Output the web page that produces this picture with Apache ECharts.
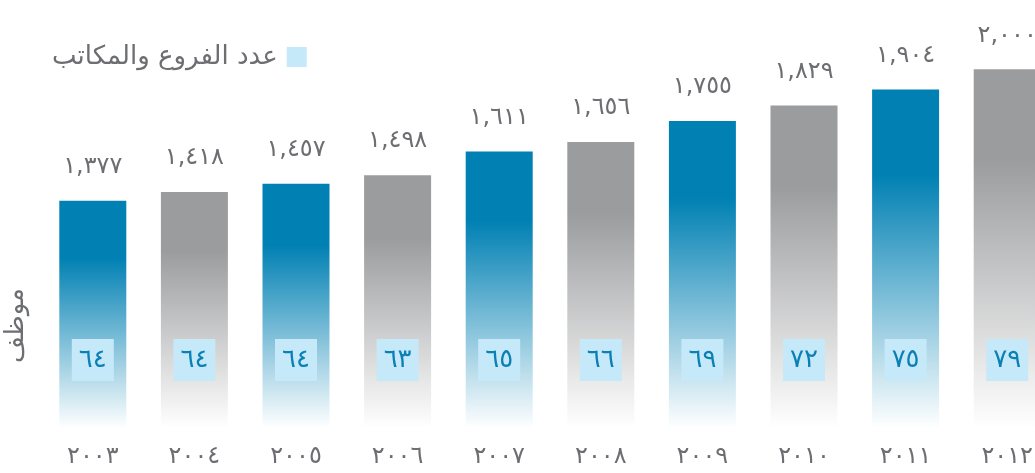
<!DOCTYPE html>
<html>
<head>
<meta charset="utf-8">
<script src="https://cdn.jsdelivr.net/npm/echarts@6/dist/echarts.min.js"></script>
<style>
  html, body { margin: 0; padding: 0; background: #fff; overflow: hidden; }
  /* the last bar is cut by the right edge in the original, so the canvas runs past the window */
  #chart { width: 1070px; height: 473px; }
</style>
</head>
<body>
<div id="chart"></div>
<script>
// data
var years = ['2003', '2004', '2005', '2006', '2007', '2008', '2009', '2010', '2011', '2012'];
var staff = [1377, 1418, 1457, 1498, 1611, 1656, 1755, 1829, 1904, 2000];
var branches = [64, 64, 64, 63, 65, 66, 69, 72, 75, 79];
var staffName = 'موظف';
var branchName = 'عدد الفروع والمكاتب';

var grey = '#6d6e71';
var font = '"DejaVu Sans", "Noto Sans", sans-serif';

// western digits -> arabic-indic digits
function toArabic(s) {
    return String(s).replace(/[0-9]/g, function (d) {
        return String.fromCharCode(0x0660 + Number(d));
    });
}

function fade(color) {
    return new echarts.graphic.LinearGradient(0, 0, 0, 1, [
        {offset: 0, color: color},
        {offset: 0.25, color: color},
        {offset: 1, color: 'rgba(255,255,255,1)'}
    ]);
}

var blueFade = fade('#0080b3');
var greyFade = fade('#9b9c9e');

var staffData = [];
for (var i = 0; i < staff.length; i++) {
    staffData.push({
        value: staff[i],
        itemStyle: {color: i % 2 === 0 ? blueFade : greyFade}
    });
}

var myChart = echarts.init(document.getElementById('chart'));

var option = {
    animation: false,
    textStyle: {fontFamily: font},
    legend: {
        left: 47,
        top: 39,
        align: 'right',
        itemWidth: 20,
        itemHeight: 20,
        textStyle: {fontSize: 26, color: grey, fontFamily: font, padding: [0, 4, 0, 0]},
        data: [{name: branchName, icon: 'rect', itemStyle: {color: '#c6e9f9'}}]
    },
    grid: {left: 42, width: 1016, top: 6, bottom: 45},
    xAxis: {
        type: 'category',
        data: years,
        axisLine: {show: false},
        axisTick: {show: false},
        axisLabel: {
            fontSize: 24,
            color: grey,
            margin: 17,
            formatter: function (v) { return toArabic(v); }
        }
    },
    yAxis: [
        {type: 'value', min: 300, max: 2300, show: false},
        {type: 'value', min: 0, max: 100, show: false}
    ],
    graphic: [{
        type: 'text',
        left: 3,
        top: 288,
        rotation: Math.PI / 2,
        style: {text: staffName, fontSize: 26, fill: grey, fontFamily: font}
    }],
    series: [
        {
            name: staffName,
            type: 'bar',
            barWidth: 67,
            barGap: '-100%',
            data: staffData,
            label: {
                show: true,
                position: 'top',
                distance: 22,
                fontSize: 24,
                color: grey,
                formatter: function (p) {
                    return toArabic(p.value.toLocaleString('en-US'));
                }
            }
        },
        {
            name: branchName,
            type: 'bar',
            yAxisIndex: 1,
            barWidth: 67,
            barGap: '-100%',
            data: branches,
            itemStyle: {color: 'rgba(0,0,0,0)'},
            label: {
                show: true,
                position: 'insideBottom',
                distance: 47,
                width: 42,
                height: 42,
                lineHeight: 42,
                align: 'center',
                backgroundColor: '#c6e9f9',
                fontSize: 26,
                color: '#0a80b4',
                formatter: function (p) { return toArabic(p.value); }
            }
        }
    ]
};

myChart.setOption(option);
</script>
</body>
</html>
